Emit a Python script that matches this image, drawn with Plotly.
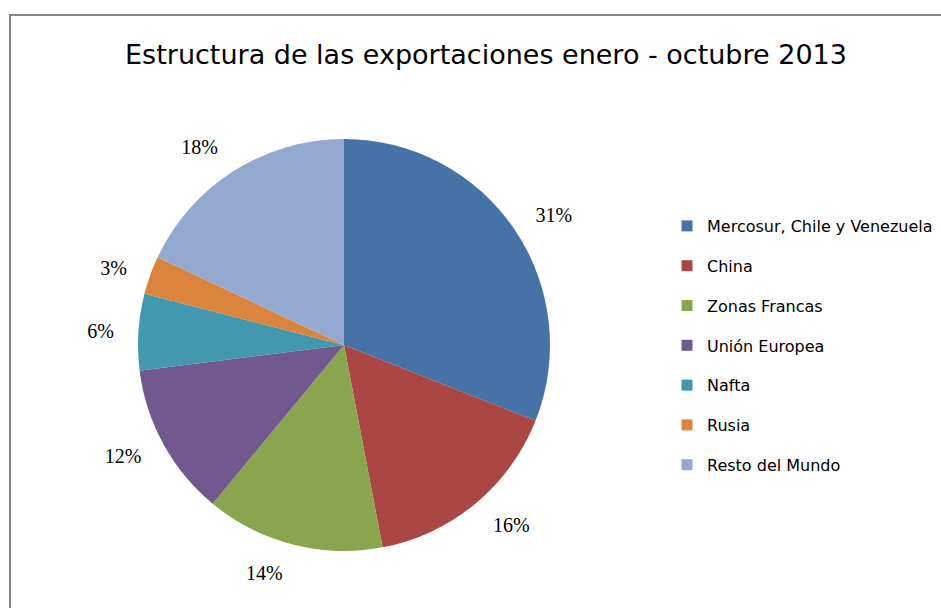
import plotly.graph_objects as go

categories = ["Mercosur, Chile y Venezuela", "China", "Zonas Francas", "Unión Europea",
              "Nafta", "Rusia", "Resto del Mundo"]
shares = [31, 16, 14, 12, 6, 3, 18]
colors = ["#4572A7", "#AA4643", "#89A54E", "#71588F", "#4198AF", "#DB843D", "#93A9CF"]
title_text = "Estructura de las exportaciones enero - octubre 2013"

W, H = 941, 608
cx, cy, r = 344, 345, 206
r_text = 225


def dom(rad):
    return dict(x=[(cx - rad) / W, (cx + rad) / W], y=[(H - cy - rad) / H, (H - cy + rad) / H])


fig = go.Figure()
fig.add_trace(go.Pie(
    labels=categories, values=shares, sort=False, direction="clockwise", rotation=0,
    marker=dict(colors=colors, line=dict(width=0)),
    textinfo="none", showlegend=False, automargin=False, domain=dom(r),
    hoverinfo="label+percent",
))
# transparent companion ring that carries the outside percentage labels
fig.add_trace(go.Pie(
    labels=categories, values=shares, sort=False, direction="clockwise", rotation=0,
    marker=dict(colors=["rgba(0,0,0,0)"] * len(categories), line=dict(width=0)),
    textinfo="percent", texttemplate="%{percent:.0%}", textposition="outside",
    outsidetextfont=dict(family="Liberation Serif", size=20, color="#000000"),
    showlegend=False, automargin=False, domain=dom(r_text), hoverinfo="skip",
))
for i, (c, col) in enumerate(zip(categories, colors)):
    fig.add_trace(go.Scatter(
        x=[None], y=[None], mode="markers", name=c, legendgroup=f"g{i}",
        marker=dict(symbol="square", size=11, color=col), showlegend=True,
    ))

fig.update_layout(
    width=W, height=H, margin=dict(l=0, r=0, t=0, b=0),
    paper_bgcolor="white", plot_bgcolor="white",
    title=dict(text=title_text, x=486 / W, xanchor="center", y=1 - 55 / H, yanchor="middle",
               font=dict(family="DejaVu Sans", size=27, color="#000000")),
    xaxis=dict(visible=False), yaxis=dict(visible=False),
    legend=dict(x=667 / W, xanchor="left", y=1 - 209 / H, yanchor="top",
                font=dict(family="DejaVu Sans", size=16, color="#000000"),
                tracegroupgap=16, itemwidth=30, bgcolor="rgba(0,0,0,0)"),
    shapes=[dict(type="rect", xref="paper", yref="paper", x0=10 / W, x1=1.02,
                 y0=-0.02, y1=1 - 15 / H, line=dict(color="#868686", width=2))],
)
fig.write_html("out.html")
